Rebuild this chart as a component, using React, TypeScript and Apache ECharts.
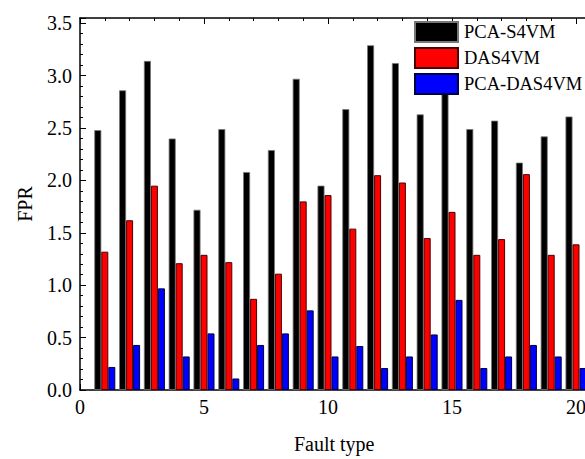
import React, { useEffect, useRef } from "react";
import * as echarts from "echarts";

const faultTypes = [1, 2, 3, 4, 5, 6, 7, 8, 9, 10, 11, 12, 13, 14, 15, 16, 17, 18, 19, 20];
const pcaS4vm = [2.48, 2.86, 3.14, 2.40, 1.72, 2.49, 2.08, 2.29, 2.97, 1.95, 2.68, 3.29, 3.12, 2.63, 2.87, 2.49, 2.57, 2.17, 2.42, 2.61];
const das4vm = [1.32, 1.62, 1.95, 1.21, 1.29, 1.22, 0.87, 1.11, 1.80, 1.86, 1.54, 2.05, 1.98, 1.45, 1.70, 1.29, 1.44, 2.06, 1.29, 1.39];
const pcaDas4vm = [0.22, 0.43, 0.97, 0.32, 0.54, 0.11, 0.43, 0.54, 0.76, 0.32, 0.42, 0.21, 0.32, 0.53, 0.86, 0.21, 0.32, 0.43, 0.32, 0.21];
const seriesNames = ["PCA-S4VM", "DAS4VM", "PCA-DAS4VM"];
const xTicks = [0, 5, 10, 15, 20];
const yTicks = [0, 0.5, 1, 1.5, 2, 2.5, 3, 3.5];

const FONT = "Liberation Serif";

export default function App() {
  const ref = useRef<HTMLDivElement>(null);
  useEffect(() => {
    if (!ref.current) return;
    const chart = echarts.init(ref.current, undefined, { renderer: "svg" });
    const mk = (vals: number[]) => faultTypes.map((x, i) => [x, vals[i]]);
    const axisLineStyle = { color: "#000", width: 1.5 };
    chart.setOption({
      animation: false,
      backgroundColor: "#fff",
      textStyle: { fontFamily: FONT },
      grid: { left: 80, top: 18, bottom: 63, right: 11.6, containLabel: false },
      legend: {
        orient: "vertical",
        left: 414,
        top: 21,
        padding: 0,
        itemWidth: 43,
        itemHeight: 20,
        itemGap: 4,
        icon: "rect",
        textStyle: { fontFamily: FONT, fontSize: 18.5, color: "#000", padding: [0, 0, 0, 1] },
        data: seriesNames,
      },
      xAxis: [
        {
          type: "value",
          min: 0,
          max: 20.5,
          interval: 5,
          name: "Fault type",
          nameLocation: "middle",
          nameGap: 44,
          nameTextStyle: { fontFamily: FONT, fontSize: 20, color: "#000" },
          axisLine: { show: true, lineStyle: axisLineStyle },
          axisTick: { show: true, inside: true, length: 6, lineStyle: { color: "#000", width: 1 } },
          minorTick: { show: true, splitNumber: 5, length: 3, lineStyle: { color: "#000", width: 1 } },
          splitLine: { show: false },
          axisLabel: {
            fontFamily: FONT,
            fontSize: 20,
            color: "#000",
            margin: 7,
            showMaxLabel: false,
            formatter: (v: number) => (xTicks.includes(v) ? String(v) : ""),
          },
        },
        {
          type: "value",
          position: "top",
          min: 0,
          max: 20.5,
          interval: 5,
          axisLine: { show: true, lineStyle: axisLineStyle },
          axisTick: { show: true, inside: true, length: 6, lineStyle: { color: "#000", width: 1 } },
          minorTick: { show: true, splitNumber: 5, length: 3, lineStyle: { color: "#000", width: 1 } },
          splitLine: { show: false },
          axisLabel: { show: false },
        },
      ],
      yAxis: {
        type: "value",
        min: 0,
        max: 3.55,
        interval: 0.5,
        name: "FPR",
        nameLocation: "middle",
        nameGap: 45,
        nameRotate: 90,
        nameTextStyle: { fontFamily: FONT, fontSize: 20, color: "#000" },
        axisLine: { show: true, lineStyle: axisLineStyle },
        axisTick: { show: true, inside: true, length: 6, lineStyle: { color: "#000", width: 1 } },
        minorTick: { show: true, splitNumber: 5, length: 3, lineStyle: { color: "#000", width: 1 } },
        splitLine: { show: false },
        axisLabel: {
          fontFamily: FONT,
          fontSize: 20,
          color: "#000",
          margin: 8,
          showMaxLabel: false,
          formatter: (v: number) =>
            yTicks.some((t) => Math.abs(t - v) < 1e-6) ? v.toFixed(1) : "",
        },
      },
      series: [
        {
          name: seriesNames[0],
          type: "bar",
          data: mk(pcaS4vm),
          barWidth: 7,
          barGap: "0%",
          itemStyle: { color: "#000", borderColor: "#777", borderWidth: 0.8 },
        },
        {
          name: seriesNames[1],
          type: "bar",
          data: mk(das4vm),
          barWidth: 7,
          barGap: "0%",
          itemStyle: { color: "#ff0000", borderColor: "#4a0000", borderWidth: 1 },
        },
        {
          name: seriesNames[2],
          type: "bar",
          data: mk(pcaDas4vm),
          barWidth: 7,
          barGap: "0%",
          itemStyle: { color: "#0000ff", borderColor: "#000040", borderWidth: 1 },
        },
      ],
    });
    return () => chart.dispose();
  }, []);
  return (
    <div style={{ position: "absolute", left: 0, top: 0, width: 585, height: 459, overflow: "hidden" }}>
      <div ref={ref} style={{ width: 600, height: 459 }} />
    </div>
  );
}
